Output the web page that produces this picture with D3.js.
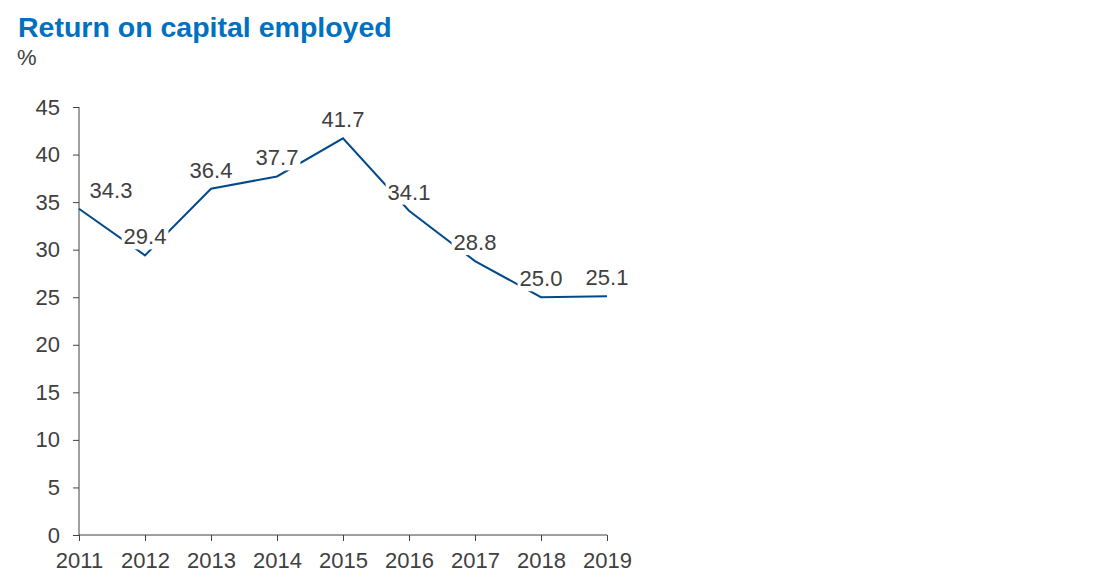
<!DOCTYPE html>
<html><head><meta charset="utf-8">
<script src="https://cdn.jsdelivr.net/npm/d3@7"></script>
<style>body{margin:0;background:#fff;}svg text{font-family:"Liberation Sans",Arial,sans-serif;}</style>
</head><body>
<svg id="c" width="1102" height="587"></svg>
<script>
const years = ["2011","2012","2013","2014","2015","2016","2017","2018","2019"];
const roce = [34.3, 29.4, 36.4, 37.7, 41.7, 34.1, 28.8, 25.0, 25.1];
const yTicks = [0,5,10,15,20,25,30,35,40,45];

const svg = d3.select("#c");
const x = d3.scalePoint().domain(years).range([79, 607]);
const y = d3.scaleLinear().domain([0,45]).range([535, 107]);
const txt = "#404040";
const fs = 22;

svg.append("text").attr("x",18).attr("y",37).attr("fill","#0070C0")
  .attr("font-size",28.5).attr("font-weight","bold").text("Return on capital employed");
svg.append("text").attr("x",17).attr("y",65).attr("fill",txt).attr("font-size",fs).text("%");

const ya = svg.append("g").attr("transform","translate(79,0)")
  .call(d3.axisLeft(y).tickValues(yTicks).tickSize(6).tickPadding(13));
const xa = svg.append("g").attr("transform","translate(0,535)")
  .call(d3.axisBottom(x).tickSize(6).tickPadding(11));
[ya,xa].forEach(a=>{
  a.select(".domain").attr("stroke","#404040");
  a.selectAll(".tick line").attr("stroke","#404040");
  a.selectAll("text").attr("fill",txt).attr("font-size",fs).attr("font-family","Liberation Sans, Arial, sans-serif");
});
xa.select(".domain").attr("d","M79,0H607");
ya.select(".domain").attr("d","M0,535V107");

svg.append("path").datum(roce)
  .attr("fill","none").attr("stroke","#004A8B").attr("stroke-width",2)
  .attr("d", d3.line().x((d,i)=>x(years[i])).y(d=>y(d)));

const lg = svg.append("g");
roce.forEach((v,i)=>{
  const cx = x(years[i]) + (i===0 ? 32 : 0);
  const cy = y(v) - 19;
  const g = lg.append("g");
  const t = g.append("text").attr("x",cx).attr("y",cy+8).attr("text-anchor","middle")
    .attr("fill",txt).attr("font-size",fs).text(v.toFixed(1));
  const b = t.node().getBBox();
  g.insert("rect","text").attr("x",b.x-2).attr("y",b.y+2).attr("width",b.width+4).attr("height",b.height-2)
    .attr("fill","#fff");
});
</script>
</body></html>
